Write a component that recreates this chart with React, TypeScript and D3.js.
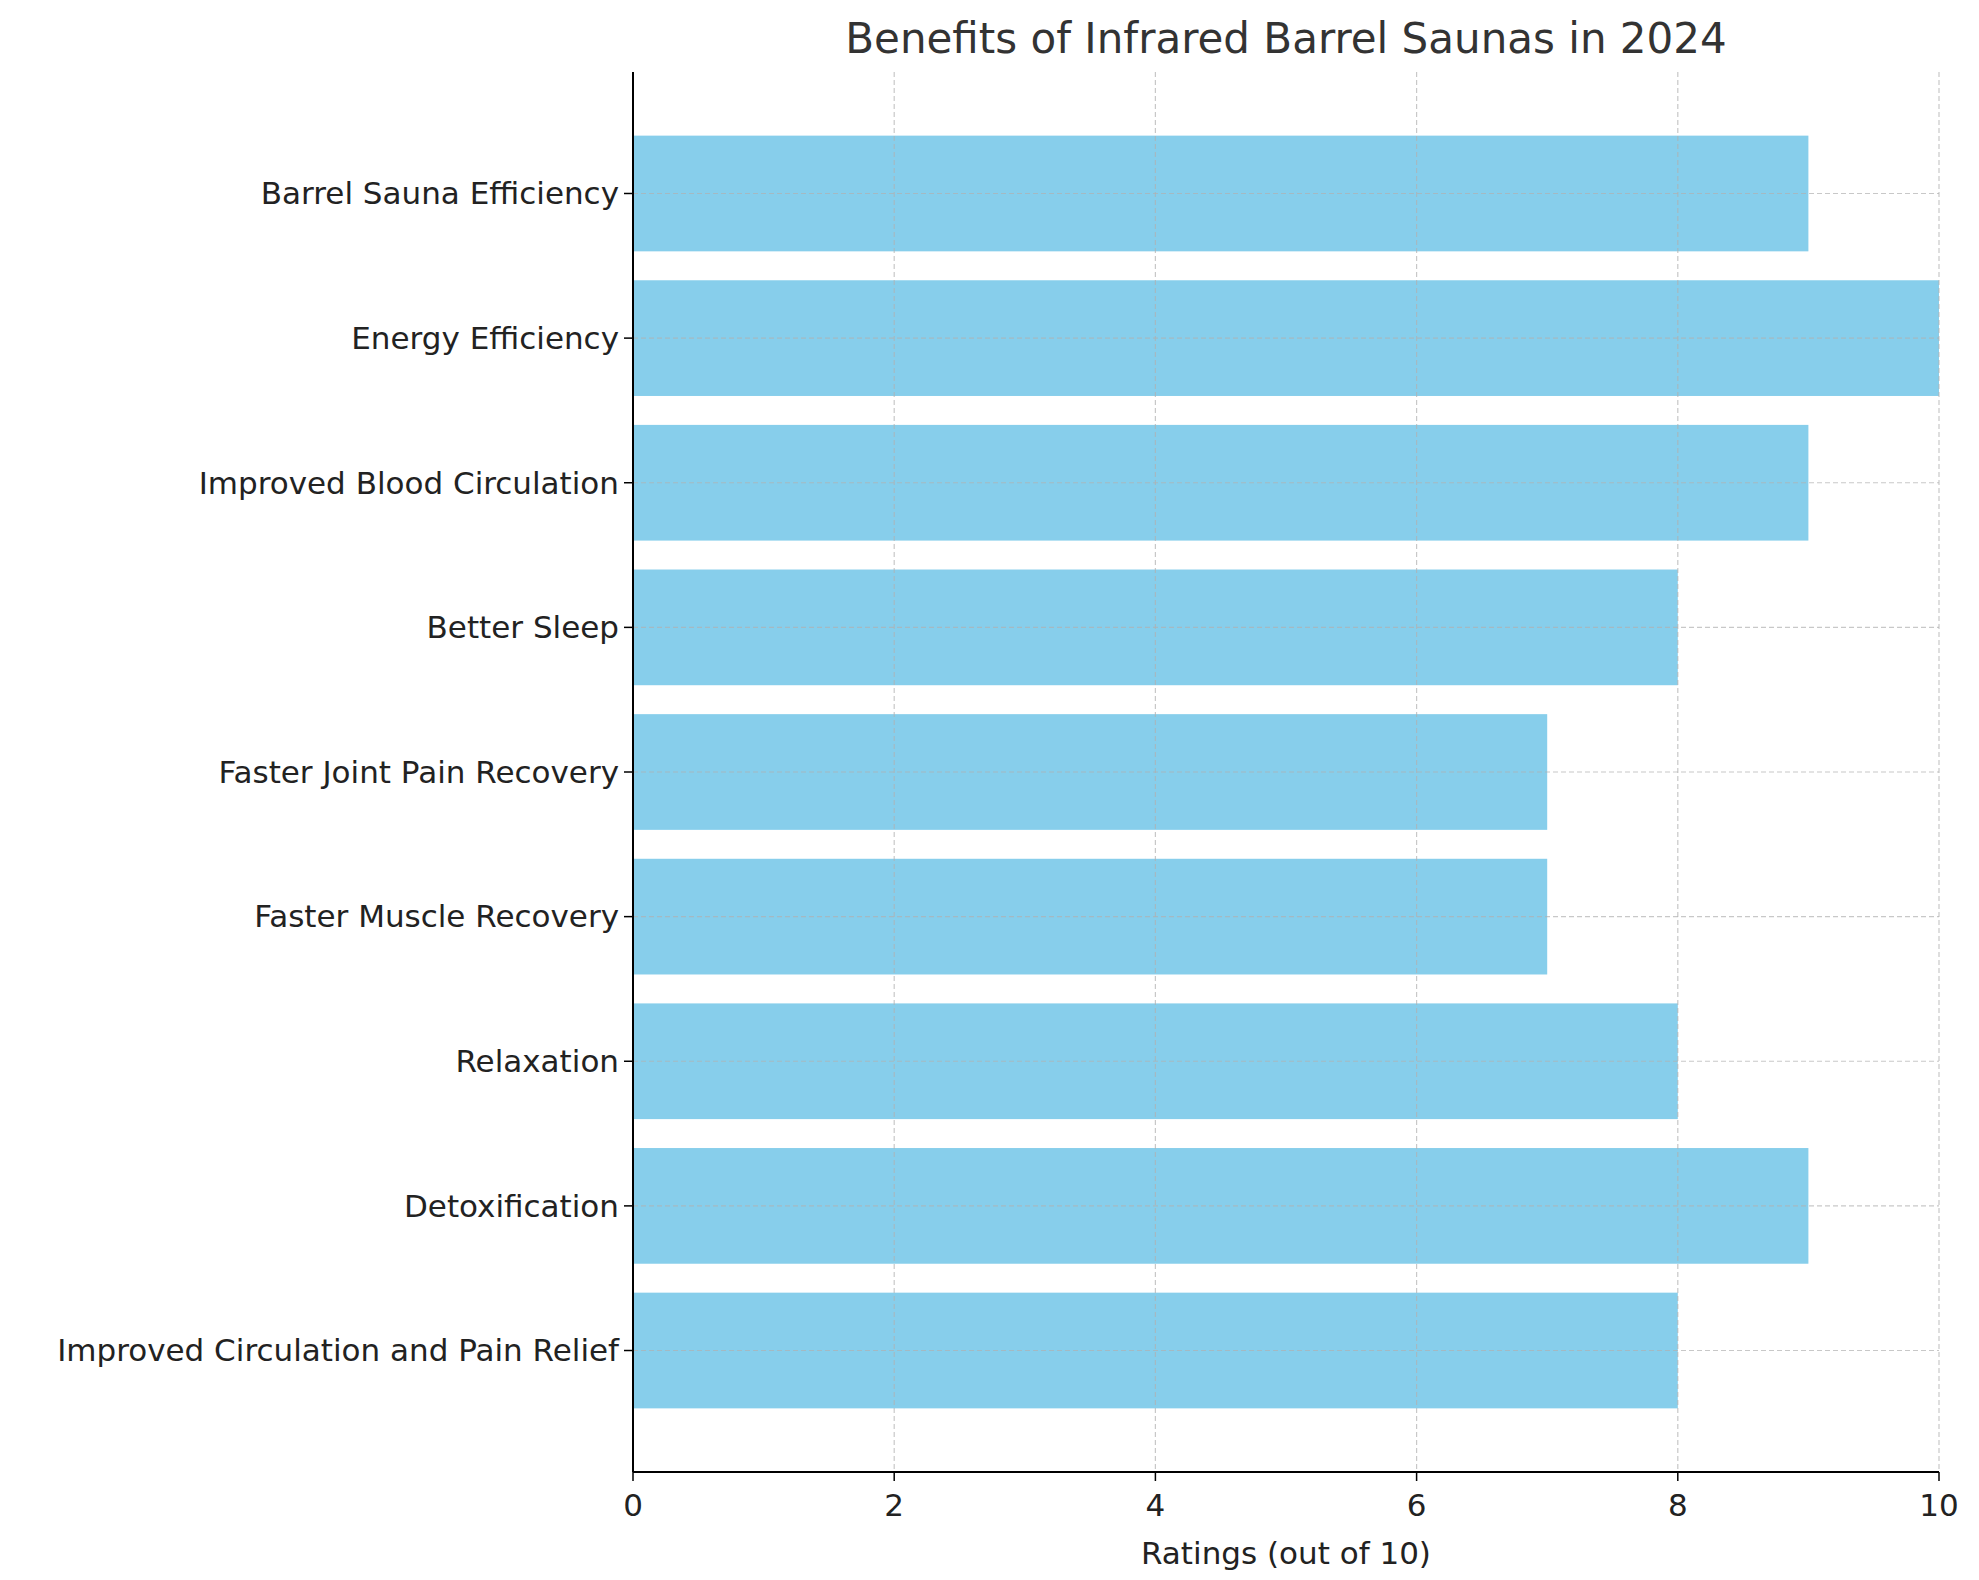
import React from "react";
import * as d3 from "d3";

const categories = [
  "Improved Circulation and Pain Relief",
  "Detoxification",
  "Relaxation",
  "Faster Muscle Recovery",
  "Faster Joint Pain Recovery",
  "Better Sleep",
  "Improved Blood Circulation",
  "Energy Efficiency",
  "Barrel Sauna Efficiency",
];
const ratings = [8, 9, 8, 7, 7, 8, 9, 10, 9];
const xTicks = [0, 2, 4, 6, 8, 10];

const W = 1979, H = 1580;
const L = 633, R = 1939, T = 72, B = 1472;

export default function App() {
  const x = d3.scaleLinear().domain([0, 10]).range([L, R]);
  const y = d3.scaleLinear().domain([-0.84, 8.84]).range([B, T]);
  const bh = y(0) - y(0.8);
  const font = "DejaVu Sans, sans-serif";
  return (
    <svg width={W} height={H} style={{ position: "absolute", left: 0, top: 0 }} fontFamily={font}>
      <rect width={W} height={H} fill="white" />
      {ratings.map((v, i) => (
        <rect key={i} x={x(0)} y={y(i) - bh / 2} width={x(v) - x(0)} height={bh} fill="#87CEEB" />
      ))}
      {xTicks.map((t) => (
        <line key={"gx" + t} x1={x(t)} x2={x(t)} y1={T} y2={B} stroke="#b0b0b0" strokeOpacity={0.7} strokeDasharray="5,3" strokeWidth={1.2} />
      ))}
      {categories.map((c, i) => (
        <line key={"gy" + i} x1={L} x2={R} y1={y(i)} y2={y(i)} stroke="#b0b0b0" strokeOpacity={0.7} strokeDasharray="5,3" strokeWidth={1.2} />
      ))}
      <line x1={L} x2={L} y1={T} y2={B} stroke="black" strokeWidth={2} />
      <line x1={L} x2={R} y1={B} y2={B} stroke="black" strokeWidth={2} />
      {xTicks.map((t) => (
        <g key={"tx" + t}>
          <line x1={x(t)} x2={x(t)} y1={B} y2={B + 9} stroke="black" strokeWidth={1.5} />
          <text x={x(t)} y={B + 44} textAnchor="middle" fontSize={31} fill="#222">{t}</text>
        </g>
      ))}
      {categories.map((c, i) => (
        <g key={"ty" + i}>
          <line x1={L - 9} x2={L} y1={y(i)} y2={y(i)} stroke="black" strokeWidth={1.5} />
          <text x={L - 14} y={y(i)} dy="0.35em" textAnchor="end" fontSize={31} fill="#222">{c}</text>
        </g>
      ))}
      <text x={(L + R) / 2} y={B + 92} textAnchor="middle" fontSize={31} fill="#222">Ratings (out of 10)</text>
      <text x={(L + R) / 2} y={53} textAnchor="middle" fontSize={42} fill="#333">Benefits of Infrared Barrel Saunas in 2024</text>
    </svg>
  );
}
